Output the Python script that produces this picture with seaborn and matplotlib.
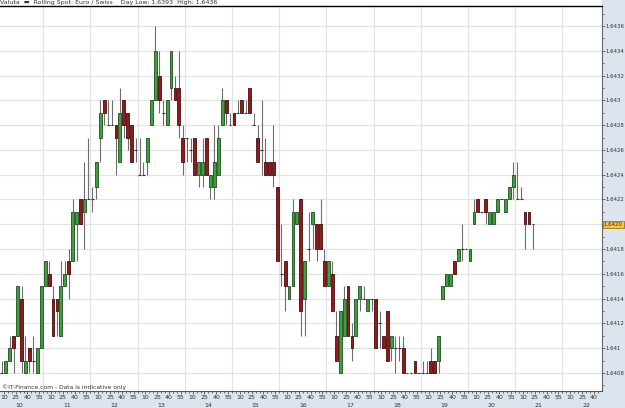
import numpy as np
import pandas as pd
import matplotlib
matplotlib.use("Agg")
import matplotlib.pyplot as plt
import matplotlib.transforms as mtransforms
from matplotlib.patches import Rectangle
import seaborn as sns

# 5-minute candles, Rolling Spot Euro / Swiss, first candle 10:05
start_time = "10:05"
opens = [1.6408, 1.6408, 1.6409, 1.6411, 1.6411, 1.6414, 1.6408, 1.6410, 1.6409, 1.6408,
         1.6410, 1.6415, 1.6416, 1.6414, 1.6414, 1.6411, 1.6415, 1.6417, 1.6417, 1.6420,
         1.6422, 1.6421, 1.6422, 1.6422, 1.6423, 1.6427, 1.6430, 1.6428, 1.6428, 1.6428,
         1.6425, 1.6430, 1.6429, 1.6428, 1.6426, 1.6424, 1.6424, 1.6425, 1.6428, 1.6430,
         1.6432, 1.6429, 1.6428, 1.6431, 1.6431, 1.6431, 1.6427, 1.6427, 1.6426, 1.6427,
         1.6424, 1.6424, 1.6427, 1.6423, 1.6423, 1.6424, 1.6428, 1.6430, 1.6428, 1.6429,
         1.6429, 1.6430, 1.6429, 1.6431, 1.6428, 1.6427, 1.6426, 1.6425, 1.6425, 1.6425,
         1.6423, 1.6416, 1.6417, 1.6414, 1.6415, 1.6420, 1.6422, 1.6414, 1.6418, 1.6420,
         1.6420, 1.6420, 1.6417, 1.6415, 1.6416, 1.6411, 1.6408, 1.6411, 1.6415, 1.6411,
         1.6411, 1.6414, 1.6414, 1.6413, 1.6414, 1.6414, 1.6412, 1.6411, 1.6413, 1.6410,
         1.6410, 1.6410, 1.6410, 1.6408, 1.6408, 1.6409, 1.6408, 1.6408, 1.6408, 1.6409,
         1.6409, 1.6409, 1.6414, 1.6415, 1.6415, 1.6417, 1.6417, 1.6418, 1.6418, 1.6417,
         1.6420, 1.6422, 1.6421, 1.6422, 1.6420, 1.6420, 1.6421, 1.6422, 1.6421, 1.6422,
         1.6423, 1.6422, 1.6422, 1.6421, 1.6421, 1.6420]
highs = [1.6409, 1.6409, 1.6411, 1.6411, 1.6415, 1.6415, 1.6411, 1.6410, 1.6411, 1.6410,
         1.6415, 1.6417, 1.6417, 1.6415, 1.6414, 1.6417, 1.6417, 1.6418, 1.6422, 1.6421,
         1.6422, 1.6425, 1.6427, 1.6423, 1.6425, 1.6430, 1.6430, 1.6430, 1.6430, 1.6428,
         1.6431, 1.6430, 1.6429, 1.6428, 1.6427, 1.6427, 1.6425, 1.6427, 1.6430, 1.6436,
         1.6434, 1.6430, 1.6430, 1.6434, 1.6432, 1.6434, 1.6428, 1.6427, 1.6427, 1.6427,
         1.6425, 1.6427, 1.6427, 1.6424, 1.6428, 1.6428, 1.6431, 1.6430, 1.6429, 1.6429,
         1.6430, 1.6430, 1.6430, 1.6431, 1.6429, 1.6428, 1.6430, 1.6427, 1.6425, 1.6428,
         1.6423, 1.6420, 1.6417, 1.6415, 1.6422, 1.6421, 1.6422, 1.6417, 1.6421, 1.6421,
         1.6420, 1.6422, 1.6418, 1.6417, 1.6417, 1.6413, 1.6413, 1.6415, 1.6415, 1.6412,
         1.6414, 1.6415, 1.6415, 1.6414, 1.6414, 1.6414, 1.6413, 1.6411, 1.6413, 1.6411,
         1.6411, 1.6411, 1.6411, 1.6408, 1.6408, 1.6409, 1.6408, 1.6409, 1.6409, 1.6410,
         1.6409, 1.6411, 1.6415, 1.6416, 1.6416, 1.6417, 1.6418, 1.6420, 1.6418, 1.6418,
         1.6422, 1.6422, 1.6421, 1.6422, 1.6421, 1.6421, 1.6422, 1.6422, 1.6422, 1.6423,
         1.6425, 1.6425, 1.6423, 1.6421, 1.6421, 1.6420]
lows = [1.6408, 1.6408, 1.6409, 1.6408, 1.6411, 1.6408, 1.6408, 1.6408, 1.6408, 1.6408,
        1.6410, 1.6415, 1.6415, 1.6411, 1.6411, 1.6411, 1.6415, 1.6414, 1.6417, 1.6417,
        1.6420, 1.6418, 1.6422, 1.6421, 1.6422, 1.6425, 1.6428, 1.6428, 1.6428, 1.6424,
        1.6425, 1.6427, 1.6426, 1.6425, 1.6425, 1.6424, 1.6424, 1.6424, 1.6428, 1.6430,
        1.6429, 1.6428, 1.6428, 1.6430, 1.6430, 1.6427, 1.6424, 1.6425, 1.6425, 1.6424,
        1.6423, 1.6423, 1.6424, 1.6422, 1.6422, 1.6424, 1.6428, 1.6428, 1.6428, 1.6428,
        1.6429, 1.6429, 1.6429, 1.6429, 1.6428, 1.6425, 1.6424, 1.6424, 1.6424, 1.6423,
        1.6417, 1.6415, 1.6413, 1.6414, 1.6415, 1.6420, 1.6411, 1.6411, 1.6417, 1.6418,
        1.6417, 1.6418, 1.6415, 1.6415, 1.6413, 1.6409, 1.6408, 1.6411, 1.6411, 1.6409,
        1.6411, 1.6413, 1.6414, 1.6413, 1.6413, 1.6410, 1.6410, 1.6410, 1.6409, 1.6409,
        1.6408, 1.6409, 1.6408, 1.6408, 1.6408, 1.6408, 1.6408, 1.6408, 1.6408, 1.6408,
        1.6408, 1.6408, 1.6414, 1.6415, 1.6415, 1.6416, 1.6417, 1.6417, 1.6418, 1.6417,
        1.6420, 1.6421, 1.6421, 1.6420, 1.6420, 1.6420, 1.6421, 1.6422, 1.6421, 1.6422,
        1.6422, 1.6422, 1.6422, 1.6418, 1.6420, 1.6418]
closes = [1.6408, 1.6409, 1.6410, 1.6410, 1.6415, 1.6409, 1.6409, 1.6409, 1.6409, 1.6410,
          1.6415, 1.6417, 1.6415, 1.6411, 1.6413, 1.6415, 1.6416, 1.6416, 1.6421, 1.6421,
          1.6420, 1.6422, 1.6422, 1.6422, 1.6425, 1.6429, 1.6429, 1.6428, 1.6428, 1.6427,
          1.6429, 1.6428, 1.6427, 1.6425, 1.6426, 1.6424, 1.6424, 1.6427, 1.6430, 1.6434,
          1.6430, 1.6429, 1.6430, 1.6434, 1.6430, 1.6428, 1.6425, 1.6427, 1.6426, 1.6424,
          1.6425, 1.6425, 1.6424, 1.6424, 1.6425, 1.6427, 1.6430, 1.6429, 1.6428, 1.6428,
          1.6429, 1.6429, 1.6429, 1.6429, 1.6428, 1.6425, 1.6426, 1.6424, 1.6424, 1.6424,
          1.6417, 1.6416, 1.6415, 1.6415, 1.6421, 1.6421, 1.6413, 1.6417, 1.6418, 1.6421,
          1.6418, 1.6418, 1.6415, 1.6417, 1.6413, 1.6409, 1.6413, 1.6414, 1.6411, 1.6410,
          1.6414, 1.6415, 1.6414, 1.6414, 1.6414, 1.6410, 1.6412, 1.6410, 1.6409, 1.6411,
          1.6410, 1.6410, 1.6408, 1.6408, 1.6408, 1.6408, 1.6408, 1.6408, 1.6408, 1.6408,
          1.6408, 1.6411, 1.6415, 1.6416, 1.6416, 1.6416, 1.6418, 1.6418, 1.6418, 1.6418,
          1.6421, 1.6421, 1.6421, 1.6421, 1.6421, 1.6421, 1.6422, 1.6422, 1.6422, 1.6423,
          1.6424, 1.6422, 1.6422, 1.6420, 1.6420, 1.6420]
last_price = 1.6420
hours = list(range(10, 23))
minute_labels = [10, 25, 40, 55]
y_ticks = [1.6408, 1.6410, 1.6412, 1.6414, 1.6416, 1.6418, 1.6420, 1.6422,
           1.6424, 1.6426, 1.6428, 1.6430, 1.6432, 1.6434, 1.6436]
title_text = "Valuta  \u25ac  Rolling Spot: Euro / Swiss    Day Low: 1.6393  High: 1.6436"
credit_text = "\u00a9IT-Finance.com - Data is indicative only"

df = pd.DataFrame({"open": opens, "high": highs, "low": lows, "close": closes})
times = pd.date_range("2000-01-01 " + start_time, periods=len(df), freq="5min")
# x position = minutes after 10:00, centred in each 5 minute slot
df["x"] = (times.hour - 10) * 60 + times.minute + 2.5

sns.set_theme(style="white")
plt.rcParams["font.family"] = ["DejaVu Sans"]

panel = "#dce4ee"
xmin, xmax = 5.1, 770.3
fig = plt.figure(figsize=(6.25, 4.08), dpi=100, facecolor="white")
fig.patches.append(Rectangle((602 / 625, 0), 1, 1, transform=fig.transFigure,
                             color=panel, zorder=-5))
fig.patches.append(Rectangle((0, 0), 1, 17 / 408, transform=fig.transFigure,
                             color=panel, zorder=-5))
ax = fig.add_axes([0, 17 / 408, 602 / 625, 385 / 408])
ax.set_facecolor("white")

# grid
for h in hours[1:]:
    ax.axvline((h - 10) * 60, color="#e2e2e2", lw=0.9, zorder=0)
for v in y_ticks:
    ax.axhline(v, color="#e2e2e2", lw=0.9, zorder=0)

# wicks
ax.vlines(df["x"], df["low"], df["high"], color="#6e6e6e", lw=0.8, zorder=2)

width = 3.6
up = df[df["close"] > df["open"]]
down = df[df["close"] < df["open"]]
flat = df[df["close"] == df["open"]]
ax.bar(up["x"], up["close"] - up["open"], bottom=up["open"], width=width,
       color="#3f9e3f", edgecolor="#1f4f1f", lw=0.6, zorder=3)
ax.bar(down["x"], down["open"] - down["close"], bottom=down["close"], width=width,
       color="#8e1c1c", edgecolor="#4a0c0c", lw=0.6, zorder=3)
ax.hlines(flat["open"], flat["x"] - width / 2, flat["x"] + width / 2,
          color="#333333", lw=0.8, zorder=3)

ax.set_xlim(xmin, xmax)
ax.set_ylim(1.640655, 1.643761)

# x axis: minute ticks and hour labels
xt = [(h - 10) * 60 + m for h in hours for m in minute_labels]
xl = [str(m) for h in hours for m in minute_labels]
keep = [i for i, v in enumerate(xt) if xmin <= v <= xmax]
ax.set_xticks([xt[i] for i in keep])
ax.set_xticklabels([xl[i] for i in keep])
ax.set_xticks(np.arange(10, 770, 5), minor=True)
ax.tick_params(axis="x", which="both", direction="out", length=2, width=0.6,
               color="#555555", labelsize=4.5, pad=1, labelcolor="#333333",
               bottom=True)
ax.tick_params(axis="x", which="minor", length=1.5)
xtrans = ax.get_xaxis_transform()
for h in hours:
    ax.text((h - 10) * 60 + 30, -0.037, str(h), transform=xtrans, ha="center",
            va="center", fontsize=4.5, color="#333333", clip_on=False)

# y axis on the right
ax.yaxis.tick_right()
ax.set_yticks(y_ticks)
ax.set_yticklabels(["" if abs(v - last_price) < 1e-9 else f"{v:.4f}".rstrip("0")
                    for v in y_ticks])
ax.set_yticks(np.arange(1.6407, 1.6438, 0.0001), minor=True)
ax.tick_params(axis="y", which="both", direction="out", right=True, left=False,
               length=2, width=0.6, color="#555555", labelsize=3.9, pad=0.8,
               labelcolor="#333333")
ax.tick_params(axis="y", which="minor", length=1.5)

ytrans = mtransforms.blended_transform_factory(ax.transAxes, ax.transData)
ax.text(1.003, last_price, "1.6420", transform=ytrans, ha="left", va="center",
        fontsize=3.9, color="#333333", clip_on=False,
        bbox=dict(boxstyle="square,pad=0.2", facecolor="#f3c646",
                  edgecolor="#9a7614", lw=0.6))

ax.spines["left"].set_visible(False)
ax.spines["top"].set_color("black")
ax.spines["top"].set_linewidth(1.0)
ax.spines["right"].set_color("#666666")
ax.spines["bottom"].set_color("#555555")
ax.spines["right"].set_linewidth(0.8)
ax.spines["bottom"].set_linewidth(0.8)

ax.text(0.003, 0.009, credit_text, transform=ax.transAxes, fontsize=4.3,
        color="#333333", va="center", ha="left")
fig.text(0.0, 1 - 2.5 / 408, title_text, fontsize=4.5, color="#333333",
         va="center", ha="left")

fig.savefig("out.png", dpi=100, facecolor=fig.get_facecolor())
